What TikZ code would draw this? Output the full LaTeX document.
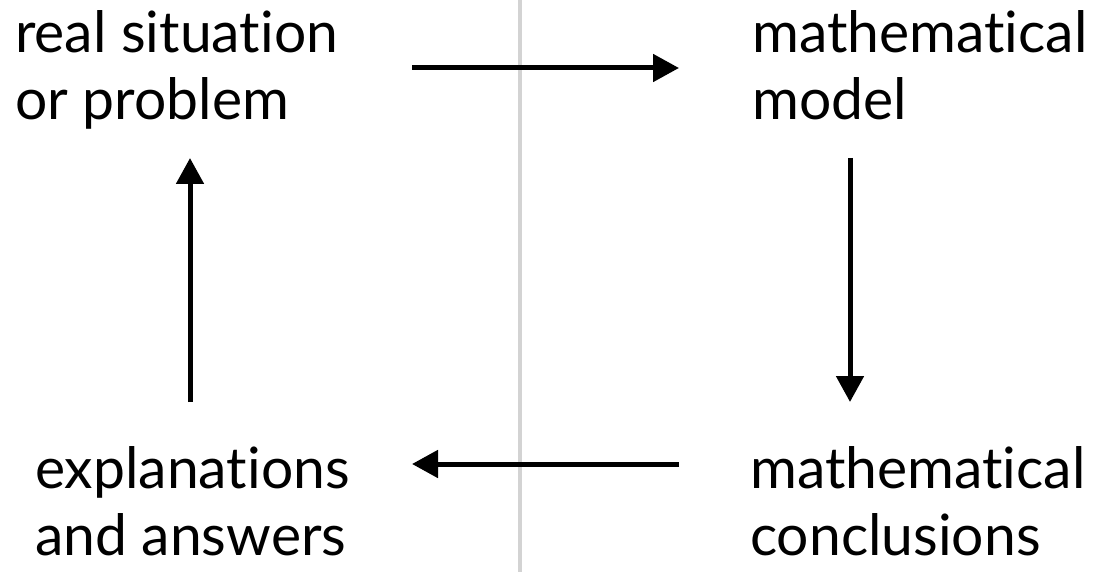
\documentclass[tikz,border=0pt]{standalone}
\usepackage{fontspec}
\setmainfont[Ligatures=NoCommon]{Lato}
\usetikzlibrary{arrows.meta}
\definecolor{divider}{RGB}{211,211,211}
\begin{document}
\begin{tikzpicture}[x=1pt,y=-1pt,
  label/.style={anchor=base west,inner sep=0pt,align=left,font=\fontsize{57}{67}\selectfont},
  flow/.style={line width=5pt,-{Triangle[length=26pt,width=27pt]}}]
\useasboundingbox (0,0) rectangle (1105,572);
\draw[divider,line width=4pt] (520,0) -- (520,572);
\node[label] (real) at (15,120) {real situation\\or problem};
\node[label] (model) at (752,120) {mathematical\\model};
\node[label] (expl) at (35,555) {explanations\\and answers};
\node[label] (concl) at (750,555) {mathematical\\conclusions};
\coordinate (a1s) at (412,68);
\coordinate (a1e) at (679,68);
\coordinate (a2s) at (850,158);
\coordinate (a2e) at (850,402);
\coordinate (a3s) at (679,464);
\coordinate (a3e) at (412,464);
\coordinate (a4s) at (190,402);
\coordinate (a4e) at (190,158);
\draw[flow] (a1s) -- (a1e);
\draw[flow] (a2s) -- (a2e);
\draw[flow] (a3s) -- (a3e);
\draw[flow] (a4s) -- (a4e);
\end{tikzpicture}
\end{document}
